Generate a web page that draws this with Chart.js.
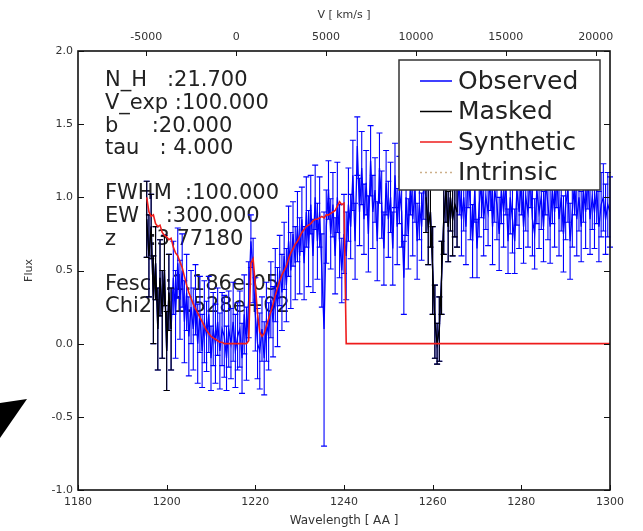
<!DOCTYPE html>
<html><head><meta charset="utf-8">
<script src="https://cdn.jsdelivr.net/npm/chart.js@4.4.0/dist/chart.umd.min.js"></script>
<style>html,body{margin:0;padding:0;background:#fff}canvas{display:block}</style>
</head><body>
<canvas id="c" width="643" height="531"></canvas>
<script>
// ---------- data ----------
const wavelength = [
1195.5,1196,1196.5,1197,1197.5,1198,1198.5,1199,1199.5,1200,
1200.5,1201,1201.5,1202,1202.5,1203,1203.5,1204,1204.5,1205,
1205.5,1206,1206.5,1207,1207.5,1208,1208.5,1209,1209.5,1210,
1210.5,1211,1211.5,1212,1212.5,1213,1213.5,1214,1214.5,1215,
1215.5,1216,1216.5,1217,1217.5,1218,1218.5,1219,1219.5,1220,
1220.5,1221,1221.5,1222,1222.5,1223,1223.5,1224,1224.5,1225,
1225.5,1226,1226.5,1227,1227.5,1228,1228.5,1229,1229.5,1230,
1230.5,1231,1231.5,1232,1232.5,1233,1233.5,1234,1234.5,1235,
1235.5,1236,1236.5,1237,1237.5,1238,1238.5,1239,1239.5,1240,
1240.5,1241,1241.5,1242,1242.5,1243,1243.5,1244,1244.5,1245,
1245.5,1246,1246.5,1247,1247.5,1248,1248.5,1249,1249.5,1250,
1250.5,1251,1251.5,1252,1252.5,1253,1253.5,1254,1254.5,1255,
1255.5,1256,1256.5,1257,1257.5,1258,1258.5,1259,1259.5,1260,
1260.5,1261,1261.5,1262,1262.5,1263,1263.5,1264,1264.5,1265,
1265.5,1266,1266.5,1267,1267.5,1268,1268.5,1269,1269.5,1270,
1270.5,1271,1271.5,1272,1272.5,1273,1273.5,1274,1274.5,1275,
1275.5,1276,1276.5,1277,1277.5,1278,1278.5,1279,1279.5,1280,
1280.5,1281,1281.5,1282,1282.5,1283,1283.5,1284,1284.5,1285,
1285.5,1286,1286.5,1287,1287.5,1288,1288.5,1289,1289.5,1290,
1290.5,1291,1291.5,1292,1292.5,1293,1293.5,1294,1294.5,1295,
1295.5,1296,1296.5,1297,1297.5,1298,1298.5,1299,1299.5,1300];
const flux = [
0.85,0.60,0.80,0.30,0.55,0.10,0.45,0.20,0.50,-0.05,
0.35,0.10,0.45,0.20,0.55,0.30,0.50,0.15,0.35,0.05,
0.25,0.10,0.30,0.00,0.20,-0.05,0.15,0.05,0.20,-0.10,
0.10,0.00,0.15,-0.05,0.10,0.05,-0.10,0.10,0.00,0.15,
-0.05,0.05,0.10,-0.10,0.20,0.00,0.30,0.70,0.50,0.20,
0.00,-0.05,0.10,-0.10,0.15,0.05,0.30,0.15,0.40,0.25,
0.50,0.35,0.60,0.40,0.70,0.50,0.75,0.55,0.80,0.60,
0.85,0.55,0.90,0.65,0.95,0.60,1.00,0.70,0.90,0.50,
0.10,0.80,1.05,0.75,0.95,0.60,1.00,0.70,0.50,0.75,
0.60,0.95,0.80,1.15,0.70,1.35,0.90,1.20,0.85,1.10,
0.75,1.25,0.90,1.05,0.70,1.20,0.95,0.65,1.10,0.85,
1.00,0.65,1.15,0.80,1.05,0.90,0.45,1.00,0.75,1.10,
0.85,1.05,0.70,0.95,0.80,1.10,1.00,0.80,0.90,0.50,
0.15,0.00,0.10,0.45,0.85,1.05,0.80,1.00,0.85,0.95,
0.90,1.10,0.85,1.00,0.80,1.15,0.95,0.70,1.05,0.65,
0.95,1.10,0.85,1.00,0.90,1.15,0.80,1.05,0.95,0.75,
1.05,0.90,1.10,0.70,1.00,0.85,0.70,1.05,0.90,1.10,
0.80,1.00,0.90,1.15,0.85,0.75,1.05,0.90,1.00,0.80,
1.10,0.95,0.80,1.05,0.90,1.15,0.85,1.00,0.75,0.95,
1.05,0.70,0.90,1.10,0.85,1.00,0.80,1.05,0.90,1.15,
0.85,1.00,0.90,1.05,0.80,0.95,1.00,0.85,0.95,0.90];
const fluxErr = [
0.26,0.28,0.22,0.30,0.25,0.28,0.26,0.30,0.24,0.27,
0.26,0.28,0.25,0.30,0.24,0.27,0.25,0.28,0.26,0.27,
0.25,0.28,0.24,0.27,0.26,0.25,0.28,0.24,0.26,0.22,
0.25,0.27,0.23,0.26,0.25,0.28,0.22,0.26,0.24,0.27,
0.25,0.23,0.26,0.24,0.27,0.25,0.26,0.18,0.22,0.25,
0.24,0.26,0.22,0.25,0.27,0.23,0.26,0.24,0.25,0.27,
0.24,0.26,0.23,0.25,0.24,0.26,0.22,0.25,0.24,0.26,
0.22,0.25,0.24,0.26,0.20,0.25,0.22,0.26,0.24,0.25,
0.80,0.25,0.20,0.24,0.22,0.26,0.24,0.25,0.22,0.27,
0.30,0.25,0.22,0.24,0.26,0.20,0.23,0.25,0.24,0.22,
0.26,0.24,0.25,0.22,0.27,0.24,0.23,0.25,0.22,0.26,
0.24,0.25,0.22,0.26,0.23,0.24,0.25,0.26,0.24,0.22,
0.25,0.22,0.26,0.24,0.23,0.25,0.24,0.26,0.24,0.30,
0.25,0.14,0.22,0.25,0.24,0.22,0.24,0.23,0.25,0.22,
0.24,0.22,0.25,0.23,0.26,0.22,0.24,0.25,0.22,0.20,
0.22,0.24,0.25,0.22,0.23,0.24,0.26,0.22,0.24,0.25,
0.23,0.24,0.22,0.22,0.25,0.23,0.22,0.24,0.25,0.22,
0.25,0.23,0.24,0.22,0.25,0.24,0.23,0.25,0.22,0.24,
0.22,0.24,0.25,0.23,0.24,0.22,0.25,0.23,0.26,0.24,
0.22,0.26,0.24,0.22,0.25,0.23,0.24,0.22,0.25,0.23,
0.24,0.22,0.25,0.23,0.24,0.22,0.23,0.24,0.22,0.24];
const maskRanges = [[1195.5, 1201.0], [1258.5, 1265.5]];
const synWave = [
1195.5,1196,1196.5,1197,1197.5,1198,1198.5,1199,1199.5,1200,
1200.5,1201,1201.5,1202,1202.5,1203,1203.5,1204,1204.5,1205,
1205.5,1206,1206.5,1207,1207.5,1208,1208.5,1209,1209.5,1210,
1210.5,1211,1211.5,1212,1212.5,1213,1213.5,1214,1214.5,1215,
1215.5,1216,1216.5,1217,1217.5,1218,1218.5,1219,1219.5,1220,
1220.5,1221,1221.5,1222,1222.5,1223,1223.5,1224,1224.5,1225,
1225.5,1226,1226.5,1227,1227.5,1228,1228.5,1229,1229.5,1230,
1230.5,1231,1231.5,1232,1232.5,1233,1233.5,1234,1234.5,1235,
1235.5,1236,1236.5,1237,1237.5,1238,1238.5,1239,1239.5,1240,
1240.5,1300];
const synFlux = [
1.00,0.90,0.87,0.88,0.82,0.80,0.81,0.76,0.74,0.73,
0.71,0.72,0.66,0.62,0.60,0.56,0.52,0.46,0.40,0.35,
0.31,0.27,0.24,0.21,0.18,0.15,0.12,0.09,0.07,0.05,
0.04,0.03,0.02,0.01,0.01,0.00,0.00,0.00,0.00,0.00,
0.00,0.00,0.00,0.00,0.00,0.00,0.02,0.55,0.58,0.40,
0.20,0.08,0.05,0.07,0.12,0.17,0.22,0.27,0.33,0.38,
0.43,0.47,0.50,0.53,0.58,0.62,0.65,0.68,0.70,0.73,
0.76,0.78,0.80,0.81,0.82,0.84,0.85,0.85,0.86,0.87,
0.86,0.88,0.88,0.89,0.90,0.91,0.94,0.97,0.95,0.96,
0.00,0.00];
const wlRange = [1180, 1300];
const fluxRange = [-1.0, 2.0];
const velTicks = [-5000, 0, 5000, 10000, 15000, 20000];
const lyaRest = 1215.67;
const infoLines = [
  ['N_H   :21.700', 0], ['V_exp :100.000', 1], ['b     :20.000', 2], ['tau   : 4.000', 3],
  ['FWHM  :100.000', 5], ['EW    :300.000', 6], ['z     :3.77180', 7],
  ['Fesc  :1.186e-05', 9], ['Chi2  :1.528e+02', 10]
];

// ---------- derived ----------
const cLight = 299792.458;
const velMin = cLight * (wlRange[0] / lyaRest - 1);
const velMax = cLight * (wlRange[1] / lyaRest - 1);
const inMask = w => maskRanges.some(r => w >= r[0] && w <= r[1]);
const obsPts = wavelength.map((w, i) => ({x: w, y: flux[i]}));
const maskedIdx = wavelength.map((w, i) => i).filter(i => inMask(wavelength[i]));
const maskedPts = [];
const maskedErr = [];
for (let k = 0; k < maskedIdx.length; k++) {
  const i = maskedIdx[k];
  if (k > 0 && maskedIdx[k - 1] !== i - 1) { maskedPts.push({x: (wavelength[i] + wavelength[i-1]) / 2, y: null}); maskedErr.push(null); }
  maskedPts.push({x: wavelength[i], y: flux[i]});
  maskedErr.push(fluxErr[i]);
}
const synPts = synWave.map((w, i) => ({x: w, y: synFlux[i]}));

const FONT = 'DejaVu Sans';

const errorBars = {
  id: 'errorBars',
  afterDatasetDraw(chart, args) {
    const ds = chart.data.datasets[args.index];
    if (!ds.errors) return;
    const ys = chart.scales.y, ctx = chart.ctx;
    ctx.save();
    ctx.strokeStyle = ds.borderColor;
    ctx.lineWidth = 1.1;
    ctx.beginPath();
    args.meta.data.forEach((pt, i) => {
      const d = ds.data[i], e = ds.errors[i];
      if (d.y === null || e === null) return;
      const x = pt.x;
      const y1 = ys.getPixelForValue(d.y + e), y2 = ys.getPixelForValue(d.y - e);
      ctx.moveTo(x, y1); ctx.lineTo(x, y2);
      ctx.moveTo(x - 3, y1); ctx.lineTo(x + 3, y1);
      ctx.moveTo(x - 3, y2); ctx.lineTo(x + 3, y2);
    });
    ctx.stroke();
    ctx.restore();
  }
};

const infoText = {
  id: 'infoText',
  beforeDatasetsDraw(chart) {
    const ctx = chart.ctx, a = chart.chartArea;
    ctx.save();
    ctx.fillStyle = '#222';
    ctx.font = '21px "' + FONT + '"';
    ctx.textBaseline = 'middle';
    ctx.textAlign = 'left';
    infoLines.forEach(([t, row]) => {
      ctx.fillText(t, a.left + 27, a.top + 30 + row * 22.6);
    });
    ctx.restore();
  }
};

const frameAndLegend = {
  id: 'frameAndLegend',
  afterDatasetsDraw(chart) {
    const ctx = chart.ctx, a = chart.chartArea;
    const bx = a.right - 211, by = a.top + 9, bw = 201, bh = 130;
    ctx.save();
    ctx.fillStyle = '#fff';
    ctx.fillRect(bx, by, bw, bh);
    ctx.strokeStyle = '#333';
    ctx.lineWidth = 1.5;
    ctx.strokeRect(bx, by, bw, bh);
    ctx.font = '25px "' + FONT + '"';
    ctx.textBaseline = 'middle';
    ctx.fillStyle = '#222';
    chart.data.datasets.forEach((ds, i) => {
      const yy = by + 21 + i * 30.5;
      ctx.save();
      ctx.strokeStyle = ds.borderColor;
      ctx.lineWidth = 1.5;
      ctx.setLineDash(ds.borderDash || []);
      ctx.beginPath();
      ctx.moveTo(bx + 21, yy); ctx.lineTo(bx + 53, yy);
      ctx.stroke();
      ctx.restore();
      ctx.fillText(ds.label, bx + 59, yy + 1);
    });
    ctx.restore();
  },
  afterDraw(chart) {
    const ctx = chart.ctx, a = chart.chartArea;
    ctx.save();
    ctx.strokeStyle = '#111';
    ctx.lineWidth = 1;
    ctx.beginPath();
    const L = 5;
    chart.scales.x.ticks.forEach(t => {
      const x = Math.round(chart.scales.x.getPixelForValue(t.value)) + 0.5;
      ctx.moveTo(x, a.bottom); ctx.lineTo(x, a.bottom - L);
    });
    chart.scales.x2.ticks.forEach(t => {
      const x = Math.round(chart.scales.x2.getPixelForValue(t.value)) + 0.5;
      ctx.moveTo(x, a.top); ctx.lineTo(x, a.top + L);
    });
    chart.scales.y.ticks.forEach(t => {
      const y = Math.round(chart.scales.y.getPixelForValue(t.value)) + 0.5;
      ctx.moveTo(a.left, y); ctx.lineTo(a.left + L + 1, y);
      ctx.moveTo(a.right, y); ctx.lineTo(a.right - L - 1, y);
    });
    ctx.stroke();
    ctx.lineWidth = 1.6;
    ctx.strokeRect(a.left, a.top, a.right - a.left, a.bottom - a.top);
    ctx.fillStyle = '#000';
    ctx.beginPath();
    ctx.moveTo(0, 403); ctx.lineTo(27, 399); ctx.lineTo(0, 438); ctx.closePath();
    ctx.fill();
    ctx.restore();
  }
};

const tickFont = {family: FONT, size: 11};
const tickColor = '#333';

new Chart(document.getElementById('c'), {
  type: 'line',
  data: {
    datasets: [
      {label: 'Observed', data: obsPts, errors: fluxErr, borderColor: '#0000ff', borderWidth: 1.3, pointRadius: 0, tension: 0, order: 3},
      {label: 'Masked', data: maskedPts, errors: maskedErr, borderColor: '#000000', borderWidth: 1.3, pointRadius: 0, tension: 0, spanGaps: false, order: 2},
      {label: 'Synthetic', data: synPts, borderColor: '#ee1c1c', borderWidth: 1.6, pointRadius: 0, tension: 0, order: 1},
      {label: 'Intrinsic', data: [], borderColor: '#cdb08a', borderWidth: 1.5, borderDash: [2, 3], pointRadius: 0, order: 0}
    ]
  },
  options: {
    responsive: false,
    animation: false,
    devicePixelRatio: 1,
    layout: {padding: {left: 0, right: 33, top: 0, bottom: 0}},
    plugins: {legend: {display: false}, tooltip: {enabled: false}},
    scales: {
      x: {
        type: 'linear', position: 'bottom', min: wlRange[0], max: wlRange[1],
        ticks: {stepSize: 20, padding: 6, font: tickFont, color: tickColor, maxRotation: 0, autoSkip: false, callback: v => String(v)},
        grid: {display: false, drawTicks: false}, border: {display: false},
        title: {display: true, text: 'Wavelength [ AA ]', font: {family: FONT, size: 12}, color: tickColor, padding: {top: 0, bottom: 3}},
        afterFit(s) { s.height = 41; }
      },
      x2: {
        type: 'linear', position: 'top', min: velMin, max: velMax,
        afterBuildTicks(s) { s.ticks = velTicks.map(v => ({value: v})); },
        ticks: {padding: 7, font: tickFont, color: tickColor, maxRotation: 0, autoSkip: false, callback: v => String(v)},
        grid: {display: false, drawTicks: false}, border: {display: false},
        title: {display: true, text: 'V [ km/s ]', font: {family: FONT, size: 11}, color: tickColor, padding: {top: 9, bottom: 0}},
        afterFit(s) { s.height = 51; }
      },
      y: {
        type: 'linear', position: 'left', min: fluxRange[0], max: fluxRange[1],
        ticks: {stepSize: 0.5, padding: 5, font: tickFont, color: tickColor, autoSkip: false, callback: v => v.toFixed(1)},
        grid: {display: false, drawTicks: false}, border: {display: false},
        title: {display: true, text: 'Flux', font: {family: FONT, size: 11}, color: tickColor, padding: {top: 23, bottom: 0}},
        afterFit(s) { s.width = 78; }
      }
    }
  },
  plugins: [errorBars, infoText, frameAndLegend]
});
</script>
</body></html>
